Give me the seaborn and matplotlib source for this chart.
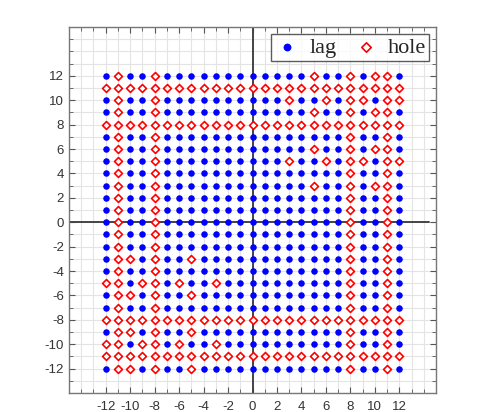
import matplotlib
matplotlib.use("Agg")
import matplotlib.pyplot as plt
import seaborn as sns
import pandas as pd
from matplotlib.ticker import MultipleLocator

# lattice coordinates
grid_vals = [-12, -11, -10, -9, -8, -7, -6, -5, -4, -3, -2, -1, 0,
             1, 2, 3, 4, 5, 6, 7, 8, 9, 10, 11, 12]
tick_vals = [-12, -10, -8, -6, -4, -2, 0, 2, 4, 6, 8, 10, 12]

# rows / columns that are entirely holes
hole_rows = [11, 8, -8, -11]
hole_cols = [-11, -8, 8, 11]

# extra holes in the upper-right and lower-left quadrants
extra_x = [5, 10, 3, 6, 9, 12, 5, 10, 5, 10, 3, 6, 9, 12, 5, 10,
           -10, -5, -12, -9, -6, -3, -10, -5, -10, -5, -12, -9, -6, -3, -10, -5]
extra_y = [12, 12, 10, 10, 10, 10, 9, 9, 6, 6, 5, 5, 5, 5, 3, 3,
           -3, -3, -5, -5, -5, -5, -6, -6, -9, -9, -10, -10, -10, -10, -12, -12]

extra = set(zip(extra_x, extra_y))
rows = []
for x in grid_vals:
    for y in grid_vals:
        is_hole = (y in hole_rows) or (x in hole_cols) or ((x, y) in extra)
        rows.append({'x': x, 'y': y, 'kind': 'hole' if is_hole else 'lag'})
df = pd.DataFrame(rows)

sns.set_style("white")
plt.rcParams['font.family'] = ['Liberation Sans', 'DejaVu Sans']
plt.rcParams['axes.unicode_minus'] = False

fig = plt.figure(figsize=(4.84, 4.12), dpi=100)
ax = fig.add_axes([69 / 484, 1 - 393 / 412, 367 / 484, 366 / 412])

ax.axhline(0, xmax=0.98, color='#444444', linewidth=1.4, zorder=1)
ax.axvline(0, color='#444444', linewidth=1.4, zorder=1)

sns.scatterplot(data=df[df['kind'] == 'lag'], x='x', y='y', ax=ax,
                color='blue', s=22, linewidth=0, label='lag', zorder=3)
sns.scatterplot(data=df[df['kind'] == 'hole'], x='x', y='y', ax=ax,
                marker='D', color='white', edgecolor='red', s=16,
                linewidth=1.2, label='hole', zorder=3)

ax.set_xlim(-15, 15)
ax.set_ylim(-14, 16)
ax.set_xticks(tick_vals)
ax.set_yticks(tick_vals)
ax.xaxis.set_minor_locator(MultipleLocator(1))
ax.yaxis.set_minor_locator(MultipleLocator(1))
ax.grid(True, which='both', color='#e4e4e4', linewidth=0.8)
ax.set_axisbelow(True)
ax.tick_params(which='both', direction='in', top=True, right=True,
               bottom=True, left=True, colors='#555555',
               labelcolor='#333333', labelsize=9.5)
ax.tick_params(which='major', length=4)
ax.tick_params(which='minor', length=3)
ax.tick_params(axis='x', pad=6)
ax.set_xlabel('')
ax.set_ylabel('')
for sp in ax.spines.values():
    sp.set_color('#777777')
    sp.set_linewidth(1.0)

leg = ax.legend(loc='upper right', ncol=2, frameon=True, fancybox=False,
                prop={'family': 'Liberation Serif', 'size': 16},
                handletextpad=0.4, columnspacing=0.7, handlelength=1.2,
                borderpad=0.15, borderaxespad=0.3, markerscale=1.2)
leg.get_frame().set_edgecolor('#333333')
leg.get_frame().set_linewidth(1.0)

fig.savefig('out.png', dpi=100)
